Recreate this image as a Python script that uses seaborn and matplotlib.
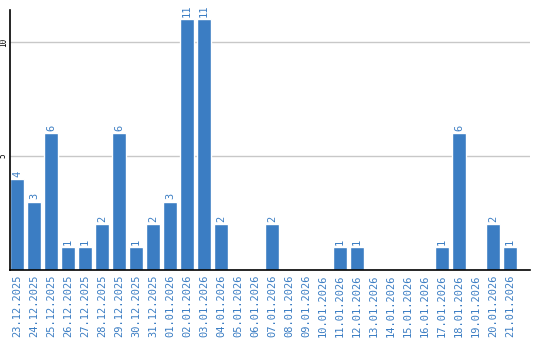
import matplotlib
matplotlib.use("Agg")
import matplotlib.pyplot as plt
import seaborn as sns
import pandas as pd

dates = ["23.12.2025", "24.12.2025", "25.12.2025", "26.12.2025", "27.12.2025",
         "28.12.2025", "29.12.2025", "30.12.2025", "31.12.2025", "01.01.2026",
         "02.01.2026", "03.01.2026", "04.01.2026", "05.01.2026", "06.01.2026",
         "07.01.2026", "08.01.2026", "09.01.2026", "10.01.2026", "11.01.2026",
         "12.01.2026", "13.01.2026", "14.01.2026", "15.01.2026", "16.01.2026",
         "17.01.2026", "18.01.2026", "19.01.2026", "20.01.2026", "21.01.2026"]
values = [4, 3, 6, 1, 1, 2, 6, 1, 2, 3, 11, 11, 2, 0, 0, 2, 0, 0, 0, 1,
          1, 0, 0, 0, 0, 1, 6, 0, 2, 1]
yticks = [5, 10]

BLUE = "#3b7dc3"

sns.set_style("white")
plt.rcParams["font.family"] = ["DejaVu Sans Mono", "DejaVu Sans"]

df = pd.DataFrame({"date": dates, "value": values})

fig = plt.figure(figsize=(5.4, 3.4), dpi=100)
ax = fig.add_axes([10 / 540, 70 / 340, 520 / 540, 260 / 340])

sns.barplot(data=df, x="date", y="value", color=BLUE, saturation=1,
            width=14 / 17, ax=ax, zorder=3)

for i, v in enumerate(values):
    if v > 0:
        ax.text(i, v + 0.1, str(v), rotation=90, ha="center", va="bottom",
                color=BLUE, fontsize=7.5)

ax.set_xlim(-7 / 17, -7 / 17 + 520 / 17)
ax.set_ylim(0, 260 / 22.8)
ax.set_yticks(yticks)
ax.set_yticklabels([str(t) for t in yticks], rotation=90, va="center",
                   ha="right", fontsize=5.5, color="black")
ax.tick_params(axis="y", length=0, pad=1.5)
ax.tick_params(axis="x", length=0, pad=3)
ax.set_xticks(range(len(dates)))
ax.set_xticklabels(dates, rotation=90, color=BLUE, fontsize=7.5, va="top")
ax.yaxis.grid(True, color="#c8c8c8", linewidth=1, zorder=0)
ax.set_axisbelow(True)
ax.set_xlabel("")
ax.set_ylabel("")
for s in ["top", "right"]:
    ax.spines[s].set_visible(False)
for s in ["left", "bottom"]:
    ax.spines[s].set_color("black")
    ax.spines[s].set_linewidth(1.2)
    ax.spines[s].set_zorder(5)

fig.savefig("out.png", dpi=100)
